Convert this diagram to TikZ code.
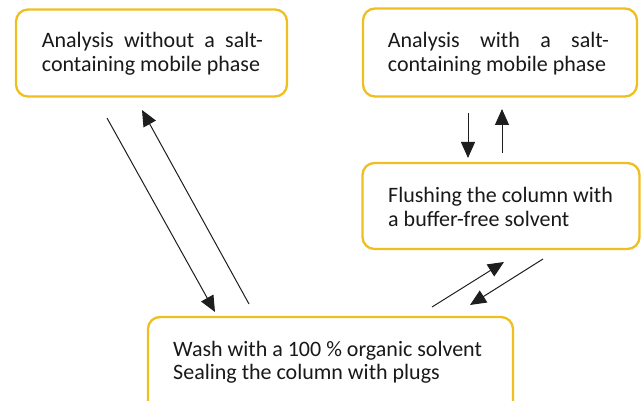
\documentclass[tikz,border=0pt]{standalone}
\usepackage{fontspec}
\setmainfont{Carlito}
\usetikzlibrary{arrows.meta}
\definecolor{boxgold}{RGB}{240,190,30}
\definecolor{linegray}{RGB}{30,30,30}
\tikzset{
  box/.style={draw=boxgold, line width=2.3pt, rounded corners=12pt, fill=white},
  txt/.style={anchor=base west, inner sep=0pt, font=\fontsize{22}{24}\selectfont, text=black!90},
  arr/.style={draw=linegray, line width=1pt, -{Triangle[length=16pt,width=14pt]}}
}
\begin{document}
\begin{tikzpicture}[x=1pt,y=-1pt]
\useasboundingbox (0,0) rectangle (641,401);
\clip (0,0) rectangle (641,401);
% boxes
\node[box, minimum width=271pt, minimum height=87pt] (tl) at (151.5,53) {};
\node[box, minimum width=274pt, minimum height=88pt] (tr) at (500,52.5) {};
\node[box, minimum width=277pt, minimum height=86pt] (mr) at (501,206) {};
\node[box, minimum width=365pt, minimum height=100pt] (bt) at (330.5,367) {};
% texts
\node[txt] (tl1) at (41.7,47.7) {\makebox[221pt][s]{Analysis without a salt-}};
\node[txt] (tl2) at (41.7,71.7) {containing mobile phase};
\node[txt] (tr1) at (387.7,47.7) {\makebox[221pt][s]{Analysis with a salt-}};
\node[txt] (tr2) at (387.7,71.7) {containing mobile phase};
\node[txt] (mr1) at (388,202.7) {Flushing the column with};
\node[txt] (mr2) at (388,226.7) {a buffer-free solvent};
\node[txt] (bt1) at (173,356) {Wash with a 100 \% organic solvent};
\node[txt] (bt2) at (173,380) {Sealing the column with plugs};
% arrow end points
\coordinate (a1s) at (107,118);
\coordinate (a1e) at (215,312);
\coordinate (a2s) at (249,304);
\coordinate (a2e) at (142,110);
\coordinate (a3s) at (468,113);
\coordinate (a3e) at (468,158);
\coordinate (a4s) at (502,153);
\coordinate (a4e) at (502,109);
\coordinate (a5s) at (432,307);
\coordinate (a5e) at (504,262);
\coordinate (a6s) at (543,259);
\coordinate (a6e) at (470,305);
\draw[arr] (a1s) -- (a1e);
\draw[arr] (a2s) -- (a2e);
\draw[arr] (a3s) -- (a3e);
\draw[arr] (a4s) -- (a4e);
\draw[arr] (a5s) -- (a5e);
\draw[arr] (a6s) -- (a6e);
\end{tikzpicture}
\end{document}
